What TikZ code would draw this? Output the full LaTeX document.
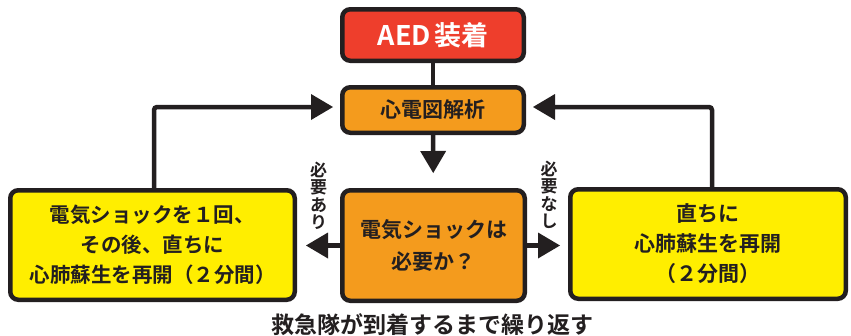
\documentclass[tikz,border=0pt]{standalone}
\usepackage{fontspec}
\setmainfont{Noto Sans CJK JP}[BoldFont={Noto Sans CJK JP Bold}]
\usetikzlibrary{arrows.meta}
\definecolor{ink}{HTML}{231F20}
\definecolor{aedred}{HTML}{EE3E2C}
\definecolor{ecgorange}{HTML}{F49B1D}
\definecolor{boxyellow}{HTML}{FFEE00}
\tikzset{
  box/.style={draw=ink, line width=4.5pt, rounded corners=8pt, align=center,
    text=ink, inner sep=0pt, font=\bfseries\fontsize{20.5}{30}\selectfont},
  conn/.style={draw=ink, line width=4.5pt},
  arr/.style={conn, -{Triangle[length=22pt,width=26pt,line width=0pt]}},
  vlabel/.style={align=center, text=ink, inner sep=0pt,
    font=\bfseries\fontsize{17}{17.5}\selectfont}
}
\begin{document}
\begin{tikzpicture}[x=1pt,y=-1pt]
\useasboundingbox (0,0) rectangle (851,335);
\fill[white] (0,0) rectangle (851,335);

\node[box, fill=aedred, text=white, minimum width=181.5pt, minimum height=51.5pt,
  font=\bfseries\fontsize{27}{30}\selectfont] (aed) at (433,35) {AED\hspace{3pt}装着};
\node[box, fill=ecgorange, minimum width=181.5pt, minimum height=45.5pt,
  font=\bfseries\fontsize{21}{30}\selectfont] (ecg) at (433,110) {心電図解析};
\node[box, fill=ecgorange, minimum width=182.5pt, minimum height=110.5pt,
  font=\bfseries\fontsize{21}{32}\selectfont] (dec) at (433.5,245.5) {電気ショックは\\必要か？};
\node[box, fill=boxyellow, minimum width=284.5pt, minimum height=109.5pt] (lbox) at (152.5,245)
  {電気ショックを１回、\\その後、直ちに\\心肺蘇生を再開（２分間）};
\node[box, fill=boxyellow, minimum width=275.5pt, minimum height=109.5pt,
  font=\bfseries\fontsize{21}{30}\selectfont] (rbox) at (708,244)
  {直ちに\\心肺蘇生を再開\\（２分間）};

\node[vlabel] (yes) at (318.5,196) {必\\要\\あ\\り};
\node[vlabel] (no) at (549,195) {必\\要\\な\\し};

\node[text=ink, inner sep=0pt, font=\bfseries\fontsize{23}{26}\selectfont] (note) at (432,325)
  {救急隊が到着するまで繰り返す};

\draw[conn] (aed) -- (ecg);
\draw[arr, shorten >=15pt] (ecg) -- (dec);
\draw[arr, shorten >=9pt] (dec.west) -- (dec.west -| lbox.east);
\draw[arr, shorten >=8pt] (dec.east) -- (dec.east -| rbox.west);
\draw[arr, shorten >=7pt, rounded corners=3pt] ([xshift=1.5pt]lbox.north) |- ([yshift=3pt]ecg.west);
\draw[arr, shorten >=7pt, rounded corners=3pt] ([xshift=4pt]rbox.north) |- ([yshift=3pt]ecg.east);
\end{tikzpicture}
\end{document}
